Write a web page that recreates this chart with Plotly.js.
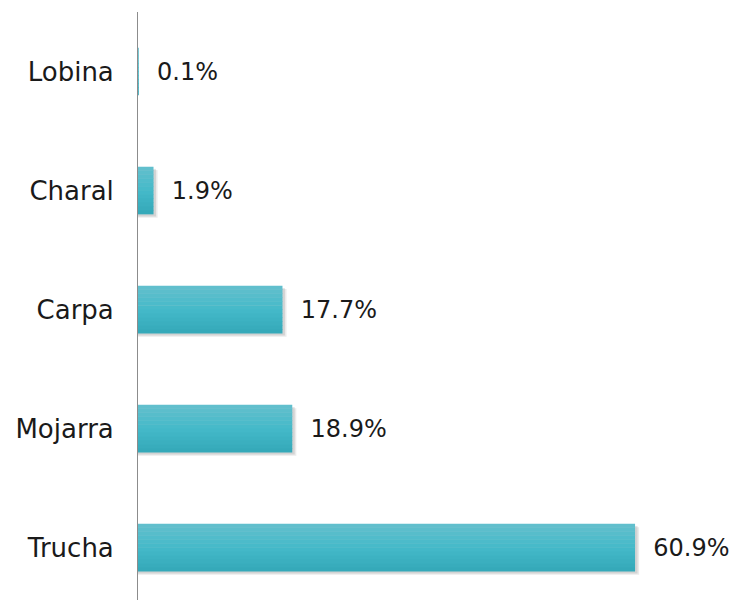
<!DOCTYPE html>
<html>
<head>
<meta charset="utf-8">
<script src="https://cdn.plot.ly/plotly-3.0.1.min.js"></script>
<style>html,body{margin:0;padding:0;background:#fff}#chart{width:733px;height:600px}</style>
</head>
<body>
<div id="chart"></div>
<script>
var categories = ["Trucha", "Mojarra", "Carpa", "Charal", "Lobina"];
var values = [60.9, 18.9, 17.7, 1.9, 0.1];
var labels = ["60.9%", "18.9%", "17.7%", "1.9%", "0.1%"];

(function(){
var FONT = "DejaVu Sans, sans-serif";
var pad = "\u00a0\u00a0";
var traces = [];

// soft shadow (two layers)
[[0.5, -0.228, "rgba(0,0,0,0.08)"], [0.3, -0.218, "rgba(0,0,0,0.10)"]].forEach(function(s){
  traces.push({
    type: "bar", orientation: "h", y: categories,
    x: values.map(function(v){ return v > 0.5 ? v + s[0] : 0; }),
    width: 0.4, offset: s[1],
    marker: {color: s[2], line: {width: 0}},
    hoverinfo: "skip", showlegend: false
  });
});

// vertical gradient approximated by thin bands (bottom -> top)
var cTop = [100, 192, 205], cMid = [68, 185, 201], cBot = [52, 167, 184];
var N = 12, BW = 0.4 / N;
for (var i = 0; i < N; i++) {
  var t = (i + 0.5) / N; // 0 bottom, 1 top
  var c;
  if (t < 0.5) { var u = t / 0.5; c = cBot.map(function(b, k){ return Math.round(b + (cMid[k] - b) * u); }); }
  else { var u2 = (t - 0.5) / 0.5; c = cMid.map(function(m, k){ return Math.round(m + (cTop[k] - m) * u2); }); }
  traces.push({
    type: "bar", orientation: "h", y: categories, x: values,
    width: i === N - 1 ? BW : BW + 0.004, offset: -0.2 + i * BW,
    marker: {color: "rgb(" + c.join(",") + ")", line: {width: 0}},
    hoverinfo: "skip", showlegend: false
  });
}

// labels
traces.push({
  type: "bar", orientation: "h", y: categories, x: values,
  width: 0.4, offset: -0.2,
  marker: {color: "rgba(0,0,0,0)", line: {width: 0}},
  text: labels.map(function(s){ return pad + s; }),
  textposition: "outside", cliponaxis: false,
  textfont: {family: FONT, size: 24, color: "#1a1a1a"},
  hoverinfo: "skip", showlegend: false
});

var layout = {
  width: 733, height: 600,
  margin: {l: 138, r: 0, t: 12, b: 0},
  paper_bgcolor: "#fff", plot_bgcolor: "#fff",
  barmode: "overlay",
  xaxis: {range: [0, 72.9], visible: false, showgrid: false, zeroline: false},
  yaxis: {
    type: "category", categoryorder: "array", categoryarray: categories,
    range: [-0.44, 4.5],
    showline: true, linecolor: "#8c8c8c", linewidth: 1,
    ticks: "outside", ticklen: 18, tickcolor: "rgba(0,0,0,0)",
    showgrid: false, zeroline: false,
    tickfont: {family: FONT, size: 26, color: "#1a1a1a"}
  },
  font: {family: FONT}
};
Plotly.newPlot("chart", traces, layout, {displayModeBar: false, staticPlot: true});
})();
</script>
</body>
</html>
